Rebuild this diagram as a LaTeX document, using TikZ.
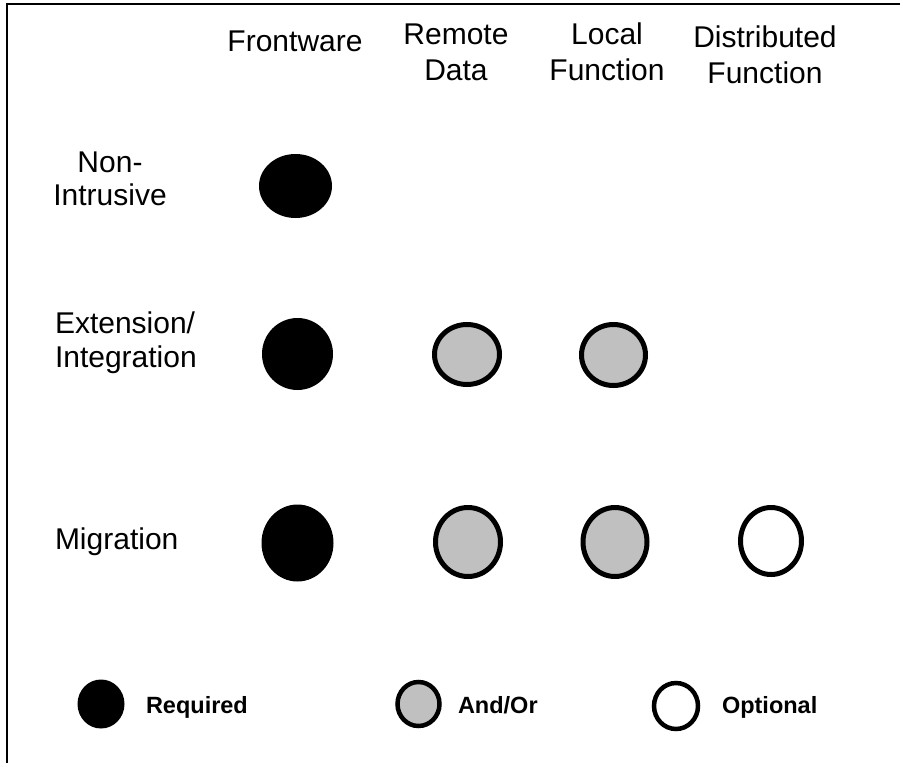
\documentclass[tikz,border=0pt]{standalone}
\usepackage{fontspec}
\setmainfont{Liberation Sans}
\usetikzlibrary{shapes.geometric}
\definecolor{silvergray}{HTML}{C0C0C0}
\begin{document}
\begin{tikzpicture}[x=1pt,y=-1pt,
  every node/.style={inner sep=0pt, outer sep=0pt},
  head/.style={font={\fontsize{30}{36}\selectfont}, align=center, anchor=base},
  rowlab/.style={font={\fontsize{30}{34}\selectfont}, anchor=base west, align=left},
  legtext/.style={font={\fontsize{23.5}{28}\selectfont\bfseries}, anchor=base west},
  req/.style={ellipse, fill=black},
  andor/.style={ellipse, draw=black, fill=silvergray, line width=5pt},
  opt/.style={ellipse, draw=black, fill=white, line width=5pt},
  legandor/.style={ellipse, draw=black, fill=silvergray, line width=4.5pt},
  legopt/.style={ellipse, draw=black, fill=white, line width=4.5pt}]
\useasboundingbox (0,0) rectangle (900,763);

% partial frame: top and left edges
\coordinate (frameTR) at (900,3.8);
\coordinate (frameTL) at (7.2,3.8);
\coordinate (frameBL) at (7.2,763);
\draw[line width=2.5pt] (frameTR) -- (frameTL) -- (frameBL);

% column headings (base = baseline of the last line)
\node[head] (hFront) at (295,51) {Frontware};
\node[head] (hRemote) at (456,80) {Remote\\Data};
\node[head] (hLocal) at (607,80) {Local\\Function};
\node[head] (hDist) at (765,83) {Distributed\\Function};

% row headings
\node[font={\fontsize{30}{33}\selectfont}, align=center, anchor=base] (rNon) at (110,205) {Non-\\Intrusive};
\node[rowlab] (rExt) at (55,367) {Extension/\\Integration};
\node[rowlab] (rMig) at (55,549) {Migration};

% Non-Intrusive row
\node[req, minimum width=73pt, minimum height=64pt] (ni1) at (295.5,186) {};

% Extension/Integration row
\node[req, minimum width=71pt, minimum height=72pt] (ex1) at (297.5,354) {};
\node[andor, minimum width=65pt, minimum height=60pt] (ex2) at (467,354.5) {};
\node[andor, minimum width=64pt, minimum height=61pt] (ex3) at (613.5,355) {};

% Migration row
\node[req, minimum width=72pt, minimum height=77pt] (mi1) at (297.5,543) {};
\node[andor, minimum width=65pt, minimum height=69pt] (mi2) at (468,542) {};
\node[andor, minimum width=64pt, minimum height=69pt] (mi3) at (615,542) {};
\node[opt, minimum width=61pt, minimum height=67pt] (mi4) at (771,541) {};

% legend
\node[req, minimum width=47pt, minimum height=49pt] (lg1) at (101,704) {};
\node[legtext] (lt1) at (146,713) {Required};
\node[legandor, minimum width=42pt, minimum height=44pt] (lg2) at (418.5,704) {};
\node[legtext] (lt2) at (458,713) {And/Or};
\node[legopt, minimum width=44pt, minimum height=46pt] (lg3) at (676,706) {};
\node[legtext] (lt3) at (722,713) {Optional};
\end{tikzpicture}
\end{document}
